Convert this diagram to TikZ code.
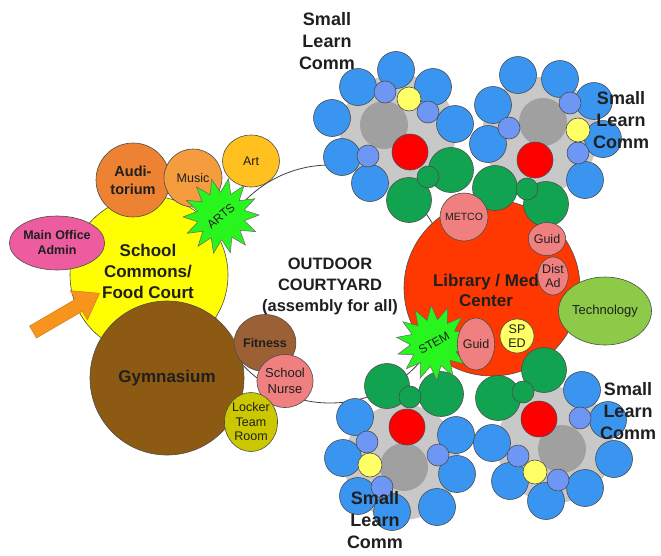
\documentclass[tikz,border=0pt]{standalone}
\usepackage{fontspec}
\setmainfont{Liberation Sans}
\usetikzlibrary{shapes.geometric}
\definecolor{cblue}{RGB}{58,149,240}
\definecolor{clblue}{RGB}{110,150,245}
\definecolor{cyel}{RGB}{255,255,102}
\definecolor{cgreen}{RGB}{18,163,80}
\definecolor{clgrey}{RGB}{200,200,200}
\definecolor{cdgrey}{RGB}{160,160,160}
\definecolor{cred}{RGB}{255,0,0}
\definecolor{cyellow}{RGB}{255,255,0}
\definecolor{caud}{RGB}{236,130,50}
\definecolor{cmusic}{RGB}{244,156,62}
\definecolor{cart}{RGB}{255,192,32}
\definecolor{cmain}{RGB}{236,92,158}
\definecolor{carrow}{RGB}{247,148,29}
\definecolor{cgym}{RGB}{140,90,18}
\definecolor{cfit}{RGB}{155,96,52}
\definecolor{cpink}{RGB}{240,128,128}
\definecolor{clock}{RGB}{204,200,0}
\definecolor{cstar}{RGB}{40,245,30}
\definecolor{clib}{RGB}{255,55,0}
\definecolor{ctech}{RGB}{140,202,72}
\newcommand{\myfs}[2]{\fontsize{#1}{#2}\selectfont}
\begin{document}
\begin{tikzpicture}[x=1pt,y=-1pt,
  every node/.style={inner sep=0pt, outer sep=0pt, text=black!88},
  ol/.style={draw=black!70, line width=0.6pt},
  circ/.style={circle, ol},
  ell/.style={ellipse, ol},
  blu/.style={circ, fill=cblue, minimum size=37pt},
  lblu/.style={circ, fill=clblue, minimum size=22pt},
  ylw/.style={circ, fill=cyel, minimum size=24pt},
  rd/.style={circ, fill=cred, minimum size=36pt},
  gbig/.style={circ, fill=cgreen, minimum size=45pt},
  gsm/.style={circ, fill=cgreen, minimum size=22pt},
  dgr/.style={circle, fill=cdgrey, minimum size=48pt},
  lgr/.style={circle, fill=clgrey, minimum size=116pt},
  slc/.style={font=\myfs{18}{22}\bfseries, align=center},
  small/.style={font=\myfs{12.5}{14.5}, align=center},
  starbox/.style={star, star points=14, star point ratio=1.6, draw=black!60, line width=0.5pt, fill=cstar, font=\myfs{12}{14}}
]
\useasboundingbox (0,0) rectangle (661,555);

% courtyard
\node[circle, draw=black!75, line width=0.8pt, minimum size=238pt] (court) at (330,284) {};
\node[font=\myfs{16.5}{21}\bfseries, align=center] (courttext) at (330,286) {OUTDOOR\\COURTYARD\\(assembly for all)};

% left group
\node[circ, fill=cyellow, minimum size=158pt] (commons) at (149,275) {};
\node[ell, fill=cmain, minimum width=80pt, minimum height=54pt, font=\myfs{12.5}{15}\bfseries, align=center] (main) at (57,243) {Main Office\\Admin};
\node[circ, fill=caud, minimum size=74pt, font=\myfs{14.5}{18}\bfseries, align=center] (aud) at (133,180) {Audi-\\torium};
\node[circ, fill=cmusic, minimum size=58pt, small] (music) at (193,178) {Music};
\node[ell, fill=cart, minimum width=57pt, minimum height=52pt, small] (art) at (251,161) {Art};
\node[font=\myfs{17}{21}\bfseries, align=center] (commonstext) at (148,271) {School\\Commons/\\Food Court};
\node[starbox, minimum size=76pt, rotate=40] (arts) at (221,216) {ARTS};
\node[circ, fill=cgym, minimum size=154pt, font=\myfs{17}{20}\bfseries] (gym) at (167,378) {Gymnasium};
\node[ell, fill=cfit, minimum width=50pt, minimum height=57pt, font=\myfs{12.5}{14}\bfseries] (fit) at (265,343) {Fitness};
\node[ell, fill=cpink, minimum width=51pt, minimum height=53pt, font=\myfs{13}{16}, align=center] (nurse) at (285,381) {School\\Nurse};
\node[ell, fill=clock, minimum width=48pt, minimum height=59pt, small] (locker) at (251,422) {Locker\\Team\\Room};
\fill[carrow, draw=carrow!80!black, line width=0.4pt] (29.5,326) -- (75.3,299.3) -- (70.3,290.6) -- (99.5,293.3) -- (87.4,320.0) -- (82.3,311.3) -- (36.5,338) -- cycle;

% library
\node[circ, fill=clib, minimum size=176pt] (lib) at (492,288) {};

% clusters
\newcommand{\cluster}[7]{%
  \node[lgr] (#1lg) at #2 {};
  \node[dgr] (#1dg) at #3 {};
  \foreach \p [count=\i] in {#4} \node[blu] (#1b\i) at \p {};
  \foreach \p [count=\i] in {#5} \node[lblu] (#1s\i) at \p {};
  \node[ylw] (#1y) at #6 {};
  \node[rd] (#1r) at #7 {};
}
\cluster{tl}{(398,132)}{(384,125)}{(396,70),(358,87),(433,87),(332,118),(455,124),(342,157),(370,183)}{(385,92),(428,112),(368,156)}{(409,99)}{(410,152)}
\cluster{tr}{(540,135)}{(543,122)}{(518,75),(560,79),(493,105),(488,144),(594,101),(603,139),(585,180)}{(570,103),(509,128),(578,153)}{(578,130)}{(535,160)}
\cluster{bl}{(402,462)}{(404,467)}{(355,417),(343,458),(358,496),(392,512),(437,507),(457,474),(456,435)}{(367,442),(438,455),(382,487)}{(370,465)}{(407,427)}
\cluster{br}{(555,445)}{(562,449)}{(582,390),(608,420),(614,459),(585,488),(546,501),(510,481),(492,443)}{(580,418),(518,456),(558,480)}{(535,472)}{(539,419)}

% greens
\foreach \p [count=\i] in {(451,170),(409,200),(495,188),(546,204),(387,386),(441,394),(498,398),(544,370)}
  \node[gbig] (gb\i) at \p {};
\foreach \p [count=\i] in {(428,177),(527,189),(410,397),(523,392)}
  \node[gsm] (gs\i) at \p {};

% library contents
\node[font=\myfs{17}{20}\bfseries, align=center] (libtext) at (486,290) {Library / Med\\Center};
\node[starbox, minimum size=70pt, rotate=30] (stem) at (434,343) {STEM};
\node[circ, fill=cpink, minimum size=48pt, font=\myfs{10.5}{12}] (metco) at (464,217) {METCO};
\node[ell, fill=cpink, minimum width=34pt, minimum height=33pt, small] (guid1) at (547,239) {Guid};
\node[ell, fill=cpink, minimum width=30pt, minimum height=38pt, small] (dist) at (553,276) {Dist\\Ad};
\node[ell, fill=cpink, minimum width=34pt, minimum height=52pt, small] (guid2) at (476,344) {Guid};
\node[circ, fill=cyel, minimum size=34pt, small] (sped) at (517,336) {SP\\ED};
\node[ell, fill=ctech, minimum width=74pt, minimum height=68pt, font=\myfs{13}{15}] (tech) at (605,311) {Technology};

% labels
\node[slc] (slctl) at (327,41) {Small\\Learn\\Comm};
\node[slc] (slctr) at (621,120) {Small\\Learn\\Comm};
\node[slc] (slcbr) at (628,411) {Small\\Learn\\Comm};
\node[slc] (slcbl) at (375,520) {Small\\Learn\\Comm};
\end{tikzpicture}
\end{document}
